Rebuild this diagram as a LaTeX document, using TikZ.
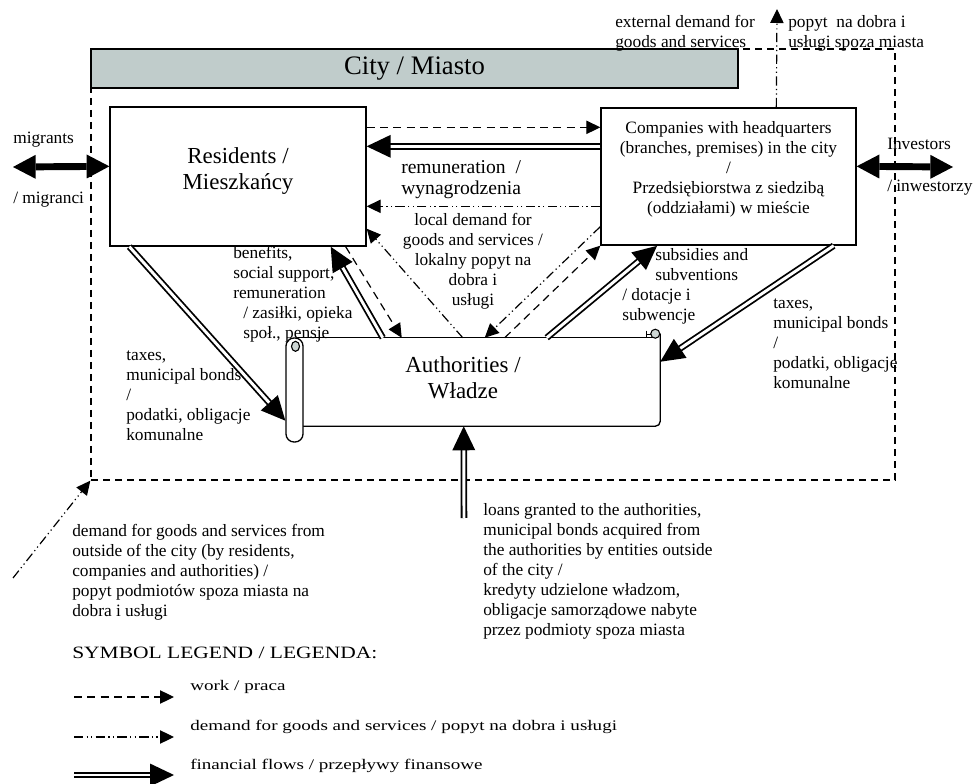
\documentclass[tikz,border=0pt]{standalone}
\usepackage{fontspec}
\usepackage{graphicx}
\setmainfont{Liberation Serif}
\usetikzlibrary{arrows.meta,calc,decorations.markings}
\definecolor{citygray}{HTML}{C0CCCB}
\definecolor{curlgray}{HTML}{CDD6D4}
\newcommand\fBody{\fontsize{13}{15}\selectfont}
\newcommand\fBig{\fontsize{17.2}{19.5}\selectfont}
\newcommand\fCity{\fontsize{20}{24}\selectfont}
\newcommand\fRem{\fontsize{14.7}{16.3}\selectfont}
\newcommand\fLegItem{\fontsize{11}{13}\selectfont}
\def\pu{0.75pt}
\tikzset{
  box/.style={draw, line width=1pt, inner sep=0pt},
  txt/.style={inner sep=0pt, align=left, font=\fBody, anchor=north west},
  workarrow/.style={line width=0.9pt, dash pattern=on 6pt off 4pt, -{Triangle[length=10.5pt,width=10pt]}},
  demandarrow/.style={line width=0.9pt, dash pattern=on 7pt off 2.5pt on 0.9pt off 2.5pt on 0.9pt off 2.5pt, -{Triangle[length=10.5pt,width=10pt]}},
  finflow/.style={double=white, double distance=2.2pt, line width=1.35pt, shorten >=14pt,
    postaction={decorate},
    decoration={markings, mark=at position 1 with {\fill[black, shorten >=0pt, shorten <=0pt] (0pt,0pt) -- (-18pt,8.6pt) -- (-18pt,-8.6pt) -- cycle;}}},
  bigarrow/.style={line width=5.2pt, {Triangle[length=17pt,width=18pt,line width=0pt]}-{Triangle[length=17pt,width=18pt,line width=0pt]}},
  citydash/.style={draw, line width=1pt, dash pattern=on 5.5pt off 3.5pt, inner sep=0pt},
  legtxt/.style={inner sep=0pt, font=\fLegItem, anchor=west},
}
\begin{document}
\begin{tikzpicture}[x=0.75pt,y=-0.75pt]
\useasboundingbox (0,0) rectangle (976,784);

% city boundary and banner
\node[citydash, minimum width=804*\pu, minimum height=431*\pu] (city) at (493,264.5) {};
\node[draw, line width=1pt, fill=citygray, minimum width=647*\pu, minimum height=39*\pu, inner sep=0pt, font=\fCity] (banner) at (414.5,68.5) {City / Miasto};

% residents
\node[box, minimum width=256*\pu, minimum height=139*\pu] (res) at (238,176.5) {};
\node[font=\fBig, align=center, inner sep=0pt] (restxt) at (238,171) {Residents /\\Mieszkańcy};

% companies
\node[box, minimum width=255*\pu, minimum height=137*\pu] (com) at (728.5,176.5) {};
\node[font=\fBody, align=center, inner sep=0pt] (comtxt) at (728.5,169) {Companies with headquarters\\(branches, premises) in the city\\/\\Przedsiębiorstwa z siedzibą\\(oddziałami) w mieście};

% authorities scroll
\node[inner sep=0pt, minimum width=366*\pu, minimum height=88*\pu] (auth) at (477,382) {};
\draw[line width=1pt] ($(auth.north west)+(4,0)$) -- ($(auth.north east)+(-6,0)$);
\draw[line width=1pt] ($(auth.north east)+(0,-4)$) -- ($(auth.south east)+(0,-5)$) arc[start angle=0,end angle=90,radius=5] -- ($(auth.south west)+(9,0)$);
\node[draw, line width=1pt, fill=white, rounded corners=6pt, minimum width=17*\pu, minimum height=104*\pu, inner sep=0pt] (roll) at (294.5,390) {};
\filldraw[fill=curlgray, line width=0.8pt] ($(roll.north)+(1,9)$) ellipse [x radius=4, y radius=5];
\filldraw[fill=curlgray, line width=0.8pt] ($(auth.north east)+(-5,-4)$) circle [radius=4.5];
\draw[line width=0.8pt] ($(auth.north east)+(-14,-7)$) -- ++(0,7);
\draw[line width=0.8pt] ($(auth.north east)+(-14,-3)$) -- ++(5,0);
\node[font=\fBig, align=center, inner sep=0pt] (authtxt) at (463,378) {Authorities /\\Władze};

% residents <-> companies
\draw[workarrow] ($(res.north east)+(0,21)$) -- ($(com.north west)+(0,20)$);
\draw[finflow] ($(com.north west)+(0,39)$) -- ($(res.north east)+(0,40)$);
\draw[demandarrow] ($(com.north west)+(0,99)$) -- ($(res.north east)+(0,100)$);

% residents <-> authorities
\draw[finflow] ($(res.south west)+(20,0)$) -- ($(roll.south west)+(0,-22)$);
\draw[finflow] ($(auth.north west)+(89,0)$) -- ($(res.south east)+(-36,0)$);
\draw[workarrow] ($(res.south east)+(-21,0)$) -- ($(auth.north west)+(108,0)$);
\draw[demandarrow] ($(auth.north west)+(169,0)$) -- ($(res.south east)+(0,-18)$);

% companies <-> authorities
\draw[demandarrow] ($(com.south west)+(0,-19)$) -- ($(auth.north west)+(191,0)$);
\draw[workarrow] ($(auth.north west)+(211,0)$) -- (com.south west);
\draw[finflow] ($(auth.north west)+(253,0)$) -- ($(com.south west)+(57,0)$);
\draw[finflow] ($(com.south east)+(-23,0)$) -- ($(auth.north east)+(0,24)$);

% outside flows
\coordinate (loanS) at (464,518);
\draw[finflow] (loanS) -- ($(auth.south west)+(170,0)$);
\coordinate (extS) at (13,578);
\draw[demandarrow] (extS) -- (city.south west);
\coordinate (extT) at (777,9);
\draw[demandarrow] ($(com.north west)+(176,0)$) -- (extT);
\coordinate (migL) at (13,167);
\draw[bigarrow] (migL) -- ($(res.north west)+(0,60)$);
\coordinate (invR) at (953,167);
\draw[bigarrow] ($(com.north east)+(0,59)$) -- (invR);

% labels
\node[txt] (lext1) at (615,15) {external demand for\\goods and services};
\node[txt] (lext2) at (788,15) {popyt\ \ na dobra i\\usługi spoza miasta};
\node[txt] (lmig1) at (13,132) {migrants};
\node[txt] (lmig2) at (13,192) {/ migranci};
\node[txt] (linv1) at (887,138) {Investors};
\node[txt] (linv2) at (887,180) {/ inwestorzy};
\node[txt, font=\fRem] (lrem) at (401,160) {remuneration\ \ /\\wynagrodzenia};
\node[txt, anchor=north, align=center] (lloc) at (473,213) {local demand for\\goods and services /\\lokalny popyt na\\dobra i\\usługi};
\node[txt] (lben) at (233,246) {benefits,\\social support,\\remuneration\\\hspace*{7.5pt}/ zasiłki, opieka\\\hspace*{7.5pt}społ., pensje};
\node[txt] (lsub1) at (655,248) {subsidies and\\subventions};
\node[txt] (lsub2) at (622,288) {/ dotacje i\\subwencje};
\node[txt] (ltaxR) at (773,298) {taxes,\\municipal bonds\\/\\podatki, obligacje\\komunalne};
\node[txt] (ltaxL) at (126,350) {taxes,\\municipal bonds\\/\\podatki, obligacje\\komunalne};
\node[txt] (lloan) at (483,503) {loans granted to the authorities,\\municipal bonds acquired from\\the authorities by entities outside\\of the city /\\kredyty udzielone władzom,\\obligacje samorządowe nabyte\\przez podmioty spoza miasta};
\node[txt] (lout) at (72,524) {demand for goods and services from\\outside of the city (by residents,\\companies and authorities) /\\popyt podmiotów spoza miasta na\\dobra i usługi};

% legend
\node[inner sep=0pt, font=\fBody, anchor=west] (legT) at (72,653) {\scalebox{1.24}[1]{SYMBOL LEGEND / LEGENDA:}};
\coordinate (lg1a) at (74,697); \coordinate (lg1b) at (174,697);
\coordinate (lg2a) at (74,737); \coordinate (lg2b) at (174,737);
\coordinate (lg3a) at (74,775); \coordinate (lg3b) at (174,775);
\draw[workarrow] (lg1a) -- (lg1b);
\draw[demandarrow] (lg2a) -- (lg2b);
\draw[finflow] (lg3a) -- (lg3b);
\node[legtxt] (leg1) at (190,687) {\scalebox{1.3}[1]{work / praca}};
\node[legtxt] (leg2) at (190,727) {\scalebox{1.3}[1]{demand for goods and services / popyt na dobra i usługi}};
\node[legtxt] (leg3) at (190,766) {\scalebox{1.3}[1]{financial flows / przepływy finansowe}};
\end{tikzpicture}
\end{document}
